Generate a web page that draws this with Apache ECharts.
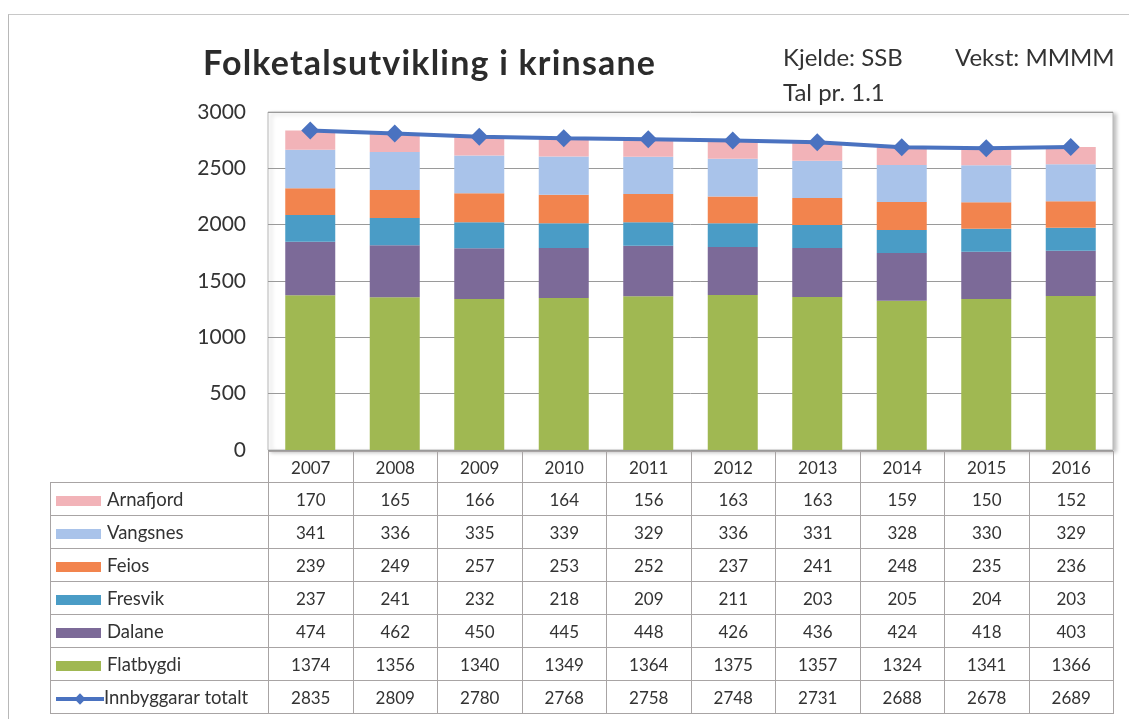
<!DOCTYPE html>
<html>
<head>
<meta charset="utf-8">
<script src="https://cdn.jsdelivr.net/npm/echarts@6/dist/echarts.min.js"></script>
<style>
  html, body { margin: 0; padding: 0; background: #fff; }
  .frame {
    position: absolute; left: 8px; top: 14px; width: 1120px; height: 720px;
    border-left: 1px solid #b8b8b8; border-top: 1px solid #c8c8c8;
  }
  #chart { position: absolute; left: 0; top: 0; width: 1129px; height: 719px; }
  .txt { position: absolute; font-family: Lato, 'Open Sans', sans-serif; color: #333; white-space: nowrap; line-height: 1; }
  table.data {
    position: absolute; left: 50px; top: 451px; border-collapse: collapse;
    font-family: Lato, 'Open Sans', sans-serif; font-size: 17px; color: #333;
  }
  table.data td { border: 1px solid #a8a4a4; text-align: center; padding: 0; height: 32px; width: 83.5px; }
  table.data tr.head td { height: 30px; }
  table.data td.blank { border: none; border-right: 1px solid #a8a4a4; width: 217px; }
  table.data td.key { text-align: left; width: 217px; font-size: 18.5px; white-space: nowrap; }
  .sw { display: inline-block; width: 45px; height: 10px; margin: 0 6px 0 5px; vertical-align: 0px; }
  .lk { display: inline-block; position: relative; width: 48px; height: 10px; margin: 0 0 0 5px; vertical-align: 0px; }
  .lk i { position: absolute; left: 0; right: 0; top: 3px; height: 4px; background: #4a72c0; }
  .lk b { position: absolute; left: 20px; top: 1px; width: 8px; height: 8px; background: #4a72c0; transform: rotate(45deg); }
</style>
</head>
<body>
<div class="frame"></div>
<div id="chart"></div>
<div class="txt" style="left:203px; top:45px; font-size:34px; font-weight:bold; letter-spacing:1.2px; color:#2b2b2b;">Folketalsutvikling i krinsane</div>
<div class="txt" style="left:783px; top:45px; font-size:24px;">Kjelde: SSB</div>
<div class="txt" style="left:955px; top:45px; font-size:24px;">Vekst: MMMM</div>
<div class="txt" style="left:783px; top:80px; font-size:24px;">Tal pr. 1.1</div>
<table class="data" id="tbl"></table>
<script>
// årstal
const years = ['2007', '2008', '2009', '2010', '2011', '2012', '2013', '2014', '2015', '2016']

// krinsar, nedst i stabelen først
const flatbygdi = [1374, 1356, 1340, 1349, 1364, 1375, 1357, 1324, 1341, 1366]
const dalane = [474, 462, 450, 445, 448, 426, 436, 424, 418, 403]
const fresvik = [237, 241, 232, 218, 209, 211, 203, 205, 204, 203]
const feios = [239, 249, 257, 253, 252, 237, 241, 248, 235, 236]
const vangsnes = [341, 336, 335, 339, 329, 336, 331, 328, 330, 329]
const arnafjord = [170, 165, 166, 164, 156, 163, 163, 159, 150, 152]
const totalt = [2835, 2809, 2780, 2768, 2758, 2748, 2731, 2688, 2678, 2689]

const krinsar = [
  { name: 'Flatbygdi', data: flatbygdi, color: '#a0b852' },
  { name: 'Dalane', data: dalane, color: '#7c6a98' },
  { name: 'Fresvik', data: fresvik, color: '#4a9cc6' },
  { name: 'Feios', data: feios, color: '#f2844e' },
  { name: 'Vangsnes', data: vangsnes, color: '#a9c3ea' },
  { name: 'Arnafjord', data: arnafjord, color: '#f2b3b8' }
]
const lineColor = '#4a72c0'

const chart = echarts.init(document.getElementById('chart'))
const option = {
  animation: false,
  grid: {
    left: 268,
    top: 112,
    width: 845,
    height: 338,
    show: true,
    borderColor: '#b8b8b8',
    borderWidth: 1,
    backgroundColor: '#fff',
    shadowColor: 'rgba(0,0,0,0.25)',
    shadowBlur: 4,
    shadowOffsetX: 3,
    shadowOffsetY: 2
  },
  xAxis: {
    type: 'category',
    data: years,
    axisLine: { show: false },
    axisTick: { show: false },
    axisLabel: { show: false }
  },
  yAxis: {
    type: 'value',
    min: 0,
    max: 3000,
    interval: 500,
    axisLine: { show: false },
    axisTick: { show: false },
    axisLabel: {
      margin: 22,
      fontFamily: 'Lato, sans-serif',
      fontSize: 21,
      color: '#333',
      formatter: v => String(v)
    },
    splitLine: { lineStyle: { color: '#9a9a9a', width: 1 } }
  },
  series: [
    ...krinsar.map(k => ({
      name: k.name,
      type: 'bar',
      stack: 'krins',
      barWidth: 50,
      data: k.data,
      itemStyle: { color: k.color }
    })),
    {
      name: 'Innbyggarar totalt',
      type: 'line',
      data: totalt,
      z: 5,
      symbol: 'diamond',
      symbolSize: 18,
      lineStyle: { color: lineColor, width: 4 },
      itemStyle: { color: lineColor }
    }
  ]
}
chart.setOption(option)

// datatabell under diagrammet
const tbl = document.getElementById('tbl')
let html = '<tr class="head"><td class="blank"></td>' + years.map(y => '<td>' + y + '</td>').join('') + '</tr>'
krinsar.slice().reverse().forEach(k => {
  html += '<tr><td class="key"><span class="sw" style="background:' + k.color + '"></span>' + k.name + '</td>' +
    k.data.map(v => '<td>' + v + '</td>').join('') + '</tr>'
})
html += '<tr><td class="key"><span class="lk"><i></i><b></b></span>Innbyggarar totalt</td>' +
  totalt.map(v => '<td>' + v + '</td>').join('') + '</tr>'
tbl.innerHTML = html
</script>
</body>
</html>
